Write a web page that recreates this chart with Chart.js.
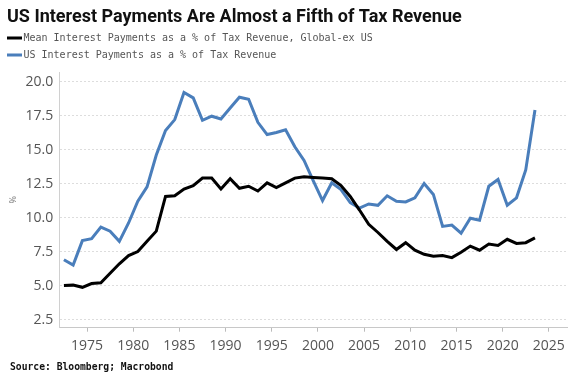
<!DOCTYPE html>
<html>
<head>
<meta charset="utf-8">
<script src="https://cdn.jsdelivr.net/npm/chart.js@4.4.1/dist/chart.umd.min.js"></script>
<style>
  html, body { margin: 0; padding: 0; background: #fff; }
  #wrap { width: 581px; height: 377px; }
</style>
</head>
<body>
<div id="wrap"><canvas id="chart" width="581" height="377"></canvas></div>
<script>
// annual data, drawn at mid-year
const years = [
  1972, 1973, 1974, 1975, 1976, 1977, 1978, 1979, 1980, 1981,
  1982, 1983, 1984, 1985, 1986, 1987, 1988, 1989, 1990, 1991,
  1992, 1993, 1994, 1995, 1996, 1997, 1998, 1999, 2000, 2001,
  2002, 2003, 2004, 2005, 2006, 2007, 2008, 2009, 2010, 2011,
  2012, 2013, 2014, 2015, 2016, 2017, 2018, 2019, 2020, 2021,
  2022, 2023
];
const globalExUs = [
  5.0, 5.03, 4.87, 5.15, 5.2, 5.9, 6.6, 7.2, 7.5, 8.25,
  9.0, 11.55, 11.6, 12.1, 12.35, 12.9, 12.9, 12.1, 12.85, 12.15,
  12.3, 11.95, 12.55, 12.2, 12.55, 12.9, 13.0, 12.95, 12.9, 12.85,
  12.35, 11.55, 10.55, 9.5, 8.9, 8.25, 7.65, 8.15, 7.6, 7.3,
  7.15, 7.2, 7.05, 7.45, 7.9, 7.6, 8.05, 7.95, 8.4, 8.1,
  8.15, 8.5
];
const usPayments = [
  6.9, 6.5, 8.3, 8.45, 9.3, 9.0, 8.25, 9.6, 11.2, 12.25,
  14.6, 16.4, 17.2, 19.2, 18.8, 17.15, 17.45, 17.25, 18.05, 18.85,
  18.7, 17.0, 16.1, 16.25, 16.45, 15.2, 14.2, 12.7, 11.25, 12.55,
  12.05, 11.1, 10.7, 11.0, 10.9, 11.6, 11.2, 11.15, 11.45, 12.5,
  11.7, 9.35, 9.45, 8.85, 9.95, 9.8, 12.3, 12.8, 10.9, 11.45,
  13.5, 17.9
];
const yTicks = [2.5, 5, 7.5, 10, 12.5, 15, 17.5, 20];
const xTicks = [1975, 1980, 1985, 1990, 1995, 2000, 2005, 2010, 2015, 2020, 2025];

const chartTitle = 'US Interest Payments Are Almost a Fifth of Tax Revenue';
const sourceText = 'Source: Bloomberg; Macrobond';
const seriesNames = [
  'Mean Interest Payments as a % of Tax Revenue, Global-ex US',
  'US Interest Payments as a % of Tax Revenue'
];

const toPoints = vals => vals.map((v, i) => ({ x: years[i] + 0.5, y: v }));

// title, legend rows and source note
const headerFooter = {
  id: 'headerFooter',
  afterDraw(chart) {
    const ctx = chart.ctx;
    ctx.save();
    ctx.textAlign = 'left';
    ctx.textBaseline = 'middle';
    ctx.fillStyle = '#111';
    ctx.font = 'bold 18px Roboto';
    ctx.fillText(chartTitle, 7, 17);

    chart.data.datasets.forEach((ds, i) => {
      const y = 38 + i * 17;
      ctx.fillStyle = ds.borderColor;
      ctx.fillRect(7, y - 1.5, 15, 3);
      ctx.fillStyle = '#555';
      ctx.font = '10px "DejaVu Sans Mono"';
      ctx.fillText(ds.label, 23.5, y);
    });

    ctx.fillStyle = '#111';
    ctx.font = 'bold 9.7px "DejaVu Sans Mono"';
    ctx.fillText(sourceText, 10, 367);
    ctx.restore();
  }
};

const ctx = document.getElementById('chart').getContext('2d');
const chart = new Chart(ctx, {
  type: 'line',
  data: {
    datasets: [
      {
        label: seriesNames[0],
        data: toPoints(globalExUs),
        borderColor: '#000000',
        borderWidth: 3,
        pointRadius: 0,
        tension: 0
      },
      {
        label: seriesNames[1],
        data: toPoints(usPayments),
        borderColor: '#4a7ebb',
        borderWidth: 3,
        pointRadius: 0,
        tension: 0
      }
    ]
  },
  options: {
    responsive: false,
    animation: false,
    devicePixelRatio: 1,
    layout: { padding: { top: 72, left: 0, right: 13.7, bottom: 24.3 } },
    plugins: {
      legend: { display: false },
      title: { display: false },
      tooltip: { enabled: false }
    },
    scales: {
      x: {
        type: 'linear',
        min: 1972,
        max: 2027,
        afterBuildTicks: scale => { scale.ticks = xTicks.map(v => ({ value: v })); },
        afterFit: scale => { scale.height = 25; },
        grid: {
          drawOnChartArea: false,
          drawTicks: true,
          tickLength: 4,
          tickColor: '#bbbbbb'
        },
        border: { color: '#c8c8c8', width: 1 },
        ticks: {
          padding: 6,
          color: '#555',
          font: { family: '"Open Sans"', size: 14 },
          callback: v => String(v)
        }
      },
      y: {
        min: 1.9,
        max: 20.7,
        afterBuildTicks: scale => { scale.ticks = yTicks.map(v => ({ value: v })); },
        afterFit: scale => { scale.width = 59.3; },
        grid: {
          color: '#dddddd',
          drawTicks: false
        },
        border: { color: '#d0d0d0', width: 1, dash: [2, 2] },
        title: {
          display: true,
          text: '%',
          color: '#777',
          font: { family: '"Open Sans"', size: 9 },
          padding: { top: 8, bottom: 0 }
        },
        ticks: {
          padding: 6,
          color: '#555',
          font: { family: '"Open Sans"', size: 14 },
          callback: v => v.toFixed(1)
        }
      }
    }
  },
  plugins: [headerFooter]
});
</script>
</body>
</html>
